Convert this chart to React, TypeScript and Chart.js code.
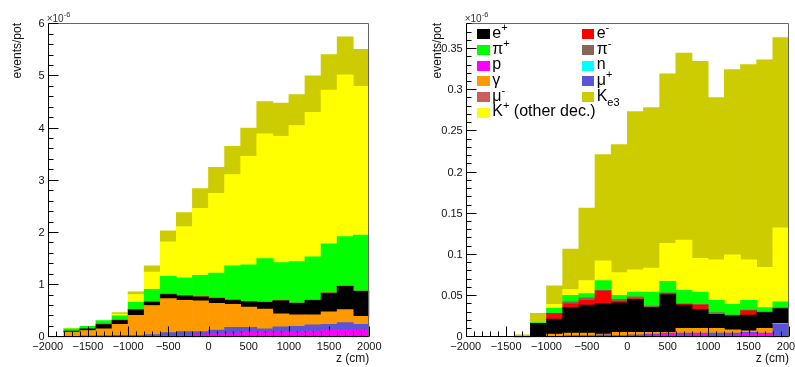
import React, { useEffect, useRef } from 'react';
import { Chart, registerables } from 'chart.js';

Chart.register(...registerables);

// ---------------- data ----------------
const binLow = [-2000, -1800, -1600, -1400, -1200, -1000, -800, -600, -400, -200, 0, 200, 400, 600, 800, 1000, 1200, 1400, 1600, 1800];
const binWidth = 200;
const binCenters = binLow.map((v) => v + binWidth / 2);

// stacking order, bottom -> top
const stackKeys = ['p', 'mup', 'n', 'gamma', 'mum', 'ep', 'em', 'pim', 'pip', 'kother', 'ke3'];
const seriesLabels = ['p', 'μ+', 'n', 'γ', 'μ-', 'e+', 'e-', 'π-', 'π+', 'K+ (other dec.)', 'Ke3'];
const seriesColors = ['#ff00ff', '#5954d8', '#00ffff', '#ff9900', '#cc5c5e', '#000000', '#ff0000', '#876657', '#00ff00', '#ffff00', '#cccc00'];

// left panel (units of 1e-6 events/pot)
const leftP = [0, 0.01, 0.01, 0.02, 0.02, 0.02, 0.03, 0.03, 0.04, 0.05, 0.07, 0.08, 0.10, 0.10, 0.11, 0.11, 0.12, 0.14, 0.14, 0.14];
const leftMuP = [0, 0.01, 0.02, 0.015, 0.02, 0.02, 0.02, 0.06, 0.07, 0.06, 0.07, 0.11, 0.09, 0.06, 0.09, 0.10, 0.12, 0.11, 0.14, 0.11];
const leftN = [0, 0, 0, 0, 0, 0, 0, 0, 0, 0, 0, 0, 0, 0, 0, 0, 0, 0, 0, 0];
const leftGamma = [0, 0.08, 0.10, 0.125, 0.21, 0.38, 0.56, 0.65, 0.60, 0.59, 0.51, 0.44, 0.39, 0.38, 0.25, 0.22, 0.19, 0.24, 0.25, 0.15];
const leftMuM = [0, 0, 0, 0, 0, 0, 0, 0, 0, 0, 0, 0, 0, 0, 0, 0, 0, 0, 0, 0];
const leftEp = [0, 0.02, 0.03, 0.085, 0.07, 0.10, 0.06, 0.08, 0.08, 0.07, 0.09, 0.08, 0.10, 0.13, 0.25, 0.22, 0.28, 0.35, 0.44, 0.48];
const leftEm = [0, 0, 0, 0.01, 0.01, 0.015, 0.015, 0.01, 0.01, 0.01, 0.01, 0.01, 0.005, 0.005, 0.005, 0.005, 0.005, 0.01, 0.01, 0.005];
const leftPiM = [0, 0, 0, 0, 0, 0, 0, 0, 0, 0, 0, 0, 0, 0, 0, 0, 0, 0, 0, 0];
const leftPiP = [0.015, 0.04, 0.05, 0.065, 0.08, 0.135, 0.235, 0.34, 0.34, 0.41, 0.48, 0.65, 0.705, 0.835, 0.725, 0.795, 0.825, 0.94, 0.95, 1.075];
const leftKOther = [0, 0.005, 0, 0, 0.035, 0.15, 0.33, 0.66, 0.98, 1.28, 1.53, 1.75, 2.08, 2.39, 2.42, 2.61, 2.77, 2.95, 3.10, 2.85];
const leftKe3 = [0, 0.005, 0, 0, 0.03, 0.05, 0.12, 0.21, 0.27, 0.38, 0.50, 0.54, 0.54, 0.62, 0.64, 0.59, 0.70, 0.68, 0.73, 0.71];

// right panel (units of 1e-6 events/pot)
const rightP = [0, 0, 0, 0, 0.001, 0.001, 0.001, 0.001, 0.002, 0.001, 0.001, 0.003, 0.004, 0.003, 0.004, 0.002, 0.003, 0.004, 0.004, 0.002];
const rightMuP = [0, 0, 0, 0, 0, 0, 0.001, 0.001, 0.001, 0.001, 0.002, 0.001, 0.001, 0.002, 0.001, 0.003, 0.002, 0.002, 0.001, 0.014];
const rightN = [0, 0, 0, 0, 0, 0, 0, 0, 0, 0, 0, 0, 0, 0, 0, 0, 0, 0, 0, 0];
const rightGamma = [0, 0, 0, 0, 0, 0.003, 0.003, 0.003, 0.001, 0.004, 0.003, 0.002, 0.001, 0.006, 0.006, 0.006, 0.004, 0.002, 0.006, 0.001];
const rightMuM = [0, 0, 0, 0, 0, 0, 0, 0, 0, 0, 0, 0, 0, 0, 0, 0, 0, 0, 0, 0];
const rightEp = [0, 0, 0, 0.001, 0.016, 0.018, 0.031, 0.034, 0.037, 0.036, 0.040, 0.030, 0.046, 0.028, 0.023, 0.017, 0.017, 0.019, 0.019, 0.018];
const rightEm = [0, 0, 0, 0, 0, 0.007, 0.005, 0.006, 0.015, 0.002, 0.001, 0, 0.001, 0.001, 0.005, 0, 0, 0.005, 0, 0];
const rightPiM = [0, 0, 0, 0, 0, 0, 0.0025, 0.003, 0.001, 0.002, 0.002, 0.002, 0.001, 0.001, 0.001, 0.002, 0.001, 0.001, 0.001, 0.001];
const rightPiP = [0, 0, 0, 0, 0.001, 0.0066, 0.0075, 0.005, 0.012, 0.005, 0.006, 0.017, 0.014, 0.016, 0.015, 0.015, 0.013, 0.012, 0.005, 0.007];
const rightKOther = [0, 0, 0, 0, 0, 0.0044, 0.007, 0.016, 0.024, 0.0275, 0.027, 0.029, 0.046, 0.061, 0.041, 0.049, 0.060, 0.049, 0.049, 0.090];
const rightKe3 = [0, 0, 0, 0.002, 0.011, 0.0225, 0.049, 0.088, 0.129, 0.1555, 0.192, 0.195, 0.206, 0.227, 0.239, 0.197, 0.225, 0.237, 0.252, 0.231];

const leftValues = [leftP, leftMuP, leftN, leftGamma, leftMuM, leftEp, leftEm, leftPiM, leftPiP, leftKOther, leftKe3];
const rightValues = [rightP, rightMuP, rightN, rightGamma, rightMuM, rightEp, rightEm, rightPiM, rightPiP, rightKOther, rightKe3];

// legend (row-major, two columns)
const legendOrder = ['ep', 'em', 'pip', 'pim', 'p', 'n', 'gamma', 'mup', 'mum', 'ke3', 'kother'];
const legendParts: Record<string, [string, string, string, string]> = {
  ep: ['e', '+', '', ''],
  em: ['e', '-', '', ''],
  pip: ['π', '+', '', ''],
  pim: ['π', '-', '', ''],
  p: ['p', '', '', ''],
  n: ['n', '', '', ''],
  gamma: ['γ', '', '', ''],
  mup: ['μ', '+', '', ''],
  mum: ['μ', '-', '', ''],
  ke3: ['K', '', 'e3', ''],
  kother: ['K', '+', '', ' (other dec.)'],
};

const xAxisTitle = 'z (cm)';
const yAxisTitle = 'events/pot';

// ---------------- layout ----------------
const FONT = '"Liberation Sans", Arial, Helvetica, sans-serif';
const PAGE_W = 795;
const PAGE_H = 367;
const AREA_TOP = 22.7;
const AREA_BOTTOM = 337.3;
const TICK_FONT = 11;

const panels = [
  { canvasLeft: 0, canvasWidth: 400, areaLeft: 47.7, areaRight: 369.3, yMax: 6.03, yStep: 1, yMinor: 0.2, yTitleLeft: 11 },
  { canvasLeft: 400, canvasWidth: 395, areaLeft: 65.7, areaRight: 389.0, yMax: 0.382, yStep: 0.05, yMinor: 0.01, yTitleLeft: 30.5 },
];

const fmt = (v: number) => {
  const s = String(parseFloat(Number(v).toFixed(4)));
  return s.replace('-', '\u2212');
};

const rootFrame = {
  id: 'rootFrame',
  afterDatasetsDraw(chart: any, _args: any, opts: any) {
    const { ctx, chartArea: a } = chart;
    const xs = chart.scales.x;
    const ys = chart.scales.y;
    const L = Math.round(a.left) + 0.5;
    const R = Math.round(a.right) - 0.5;
    const T = Math.round(a.top) + 0.5;
    const B = Math.round(a.bottom) - 0.5;
    ctx.save();
    ctx.lineWidth = 1;
    // frame
    ctx.strokeStyle = '#666666';
    ctx.beginPath();
    ctx.moveTo(L, T);
    ctx.lineTo(R, T);
    ctx.lineTo(R, B);
    ctx.stroke();
    ctx.strokeStyle = '#000000';
    ctx.beginPath();
    ctx.moveTo(L, T);
    ctx.lineTo(L, B);
    ctx.lineTo(R, B);
    // y ticks
    const ny = Math.floor(ys.max / opts.yMinor + 1e-6);
    for (let i = 0; i <= ny; i++) {
      const v = i * opts.yMinor;
      const py = Math.round(ys.getPixelForValue(v)) - 0.5;
      const len = i % opts.yMajorEvery === 0 ? opts.majorLen : opts.minorLen;
      ctx.moveTo(L, py);
      ctx.lineTo(L + len, py);
    }
    // x ticks
    const nx = Math.round((xs.max - xs.min) / opts.xMinor);
    for (let i = 0; i <= nx; i++) {
      const v = xs.min + i * opts.xMinor;
      const px = Math.round(xs.getPixelForValue(v)) + 0.5;
      const len = i % opts.xMajorEvery === 0 ? opts.majorLen : opts.minorLen;
      ctx.moveTo(px, B);
      ctx.lineTo(px, B - len);
    }
    ctx.stroke();
    ctx.restore();
  },
};

function buildChart(canvas: HTMLCanvasElement, idx: number) {
  const cfg = panels[idx];
  const values = idx === 0 ? leftValues : rightValues;
  const datasets = stackKeys.map((k, i) => ({
    label: seriesLabels[i],
    data: values[i].map((v, j) => ({ x: binCenters[j], y: v === 0 ? null : v })),
    backgroundColor: seriesColors[i],
    borderWidth: 0,
    barPercentage: 1,
    categoryPercentage: 1,
  }));
  const yWidth = cfg.areaLeft;
  const xHeight = PAGE_H - AREA_BOTTOM;
  return new Chart(canvas, {
    type: 'bar',
    data: { datasets } as any,
    plugins: [rootFrame],
    options: {
      animation: false,
      responsive: false,
      maintainAspectRatio: false,
      events: [],
      layout: { padding: { left: 0, top: AREA_TOP, right: cfg.canvasWidth - cfg.areaRight, bottom: 0 } },
      plugins: {
        legend: { display: false },
        tooltip: { enabled: false },
        rootFrame: { yMinor: cfg.yMinor, yMajorEvery: Math.round(cfg.yStep / cfg.yMinor), xMinor: 100, xMajorEvery: 5, majorLen: 10, minorLen: 5 },
      } as any,
      scales: {
        x: {
          type: 'linear',
          min: binLow[0],
          max: binLow[binLow.length - 1] + binWidth,
          stacked: true,
          offset: false,
          grid: { display: false, drawTicks: false },
          border: { display: false },
          ticks: {
            stepSize: 500,
            padding: 3,
            maxRotation: 0,
            autoSkip: false,
            includeBounds: false,
            color: '#111',
            font: { family: FONT, size: TICK_FONT },
            callback: (v: any) => fmt(v),
          },
          afterFit: (s: any) => {
            s.height = xHeight;
            s.paddingLeft = 0;
            s.paddingRight = 0;
          },
        },
        y: {
          type: 'linear',
          min: 0,
          max: cfg.yMax,
          stacked: true,
          grid: { display: false, drawTicks: false },
          border: { display: false },
          ticks: {
            stepSize: cfg.yStep,
            includeBounds: false,
            padding: 3,
            color: '#111',
            font: { family: FONT, size: TICK_FONT },
            callback: (v: any) => fmt(v),
          },
          afterFit: (s: any) => {
            s.width = yWidth;
          },
        },
      } as any,
    },
  });
}

function LegendLabel({ k }: { k: string }) {
  const [base, sup, sub, rest] = legendParts[k];
  return (
    <>
      {base}
      {sup ? <span style={{ fontSize: 11, position: 'relative', top: -7 }}>{sup}</span> : null}
      {sub ? <span style={{ fontSize: 11, position: 'relative', top: 5 }}>{sub}</span> : null}
      {rest}
    </>
  );
}

export default function App() {
  const leftRef = useRef<HTMLCanvasElement>(null);
  const rightRef = useRef<HTMLCanvasElement>(null);

  useEffect(() => {
    const c1 = buildChart(leftRef.current as HTMLCanvasElement, 0);
    const c2 = buildChart(rightRef.current as HTMLCanvasElement, 1);
    return () => {
      c1.destroy();
      c2.destroy();
    };
  }, []);

  const textBase: React.CSSProperties = { position: 'absolute', fontFamily: FONT, color: '#111', whiteSpace: 'nowrap' };

  return (
    <div style={{ position: 'absolute', left: 0, top: 0, width: PAGE_W, height: PAGE_H, background: '#fff', overflow: 'hidden' }}>
      {panels.map((p, i) => (
        <canvas
          key={i}
          ref={i === 0 ? leftRef : rightRef}
          width={p.canvasWidth}
          height={PAGE_H}
          style={{ position: 'absolute', left: p.canvasLeft, top: 0, width: p.canvasWidth, height: PAGE_H, display: 'block' }}
        />
      ))}
      {panels.map((p, i) => (
        <React.Fragment key={'t' + i}>
          <div
            style={{
              ...textBase,
              left: p.canvasLeft + p.yTitleLeft,
              top: AREA_TOP,
              fontSize: 12,
              lineHeight: '12px',
              writingMode: 'vertical-rl',
              transform: 'rotate(180deg)',
            }}
          >
            {yAxisTitle}
          </div>
          <div style={{ ...textBase, left: p.canvasLeft + p.areaRight, top: 351, fontSize: 12, lineHeight: '14px', transform: 'translateX(-100%)' }}>
            {xAxisTitle}
          </div>
          <div style={{ ...textBase, left: p.canvasLeft + p.areaLeft - 1, top: 14.2, fontSize: 10, lineHeight: '10px', color: '#333' }}>
            ×10<span style={{ fontSize: 7.5, position: 'relative', top: -5 }}>-6</span>
          </div>
        </React.Fragment>
      ))}
      {legendOrder.map((k, i) => {
        const col = i % 2;
        const row = Math.floor(i / 2);
        const boxLeft = col === 0 ? 477.3 : 581.7;
        const baseline = 38.5 + 15.64 * row;
        const color = seriesColors[stackKeys.indexOf(k)];
        return (
          <React.Fragment key={k}>
            <div style={{ position: 'absolute', left: boxLeft, top: baseline - 9.2, width: 12.7, height: 10, background: color }} />
            <div style={{ ...textBase, color: '#000', left: boxLeft + 15, top: baseline - 13.55, fontSize: 16, lineHeight: '16px' }}>
              <LegendLabel k={k} />
            </div>
          </React.Fragment>
        );
      })}
    </div>
  );
}
